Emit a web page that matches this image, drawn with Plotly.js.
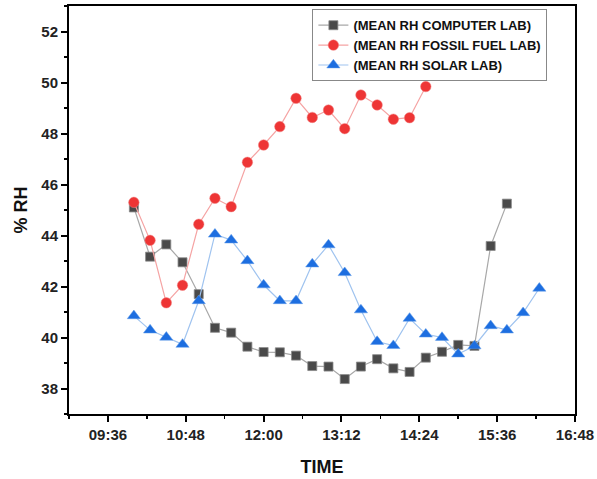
<!DOCTYPE html>
<html>
<head>
<meta charset="utf-8">
<script src="https://cdn.plot.ly/plotly-3.0.1.min.js"></script>
<style>html,body{margin:0;padding:0;background:#fff;}#chart{width:597px;height:479px;}</style>
</head>
<body>
<div id="chart"></div>
<script>
// Times (15-minute readings)
const computerTimes = ["10:00","10:15","10:30","10:45","11:00","11:15","11:30","11:45","12:00","12:15","12:30","12:45","13:00","13:15","13:30","13:45","14:00","14:15","14:30","14:45","15:00","15:15","15:30","15:45"];
const computerRH = [45.10,43.17,43.65,42.95,41.70,40.38,40.19,39.64,39.43,39.42,39.29,38.88,38.86,38.37,38.86,39.15,38.79,38.65,39.21,39.44,39.71,39.67,43.59,45.25];

const fossilTimes = ["10:00","10:15","10:30","10:45","11:00","11:15","11:30","11:45","12:00","12:15","12:30","12:45","13:00","13:15","13:30","13:45","14:00","14:15","14:30"];
const fossilRH = [45.30,43.81,41.36,42.05,44.44,45.46,45.13,46.87,47.55,48.27,49.38,48.63,48.92,48.19,49.51,49.12,48.56,48.62,49.84];

const solarTimes = ["10:00","10:15","10:30","10:45","11:00","11:15","11:30","11:45","12:00","12:15","12:30","12:45","13:00","13:15","13:30","13:45","14:00","14:15","14:30","14:45","15:00","15:15","15:30","15:45","16:00","16:15"];
const solarRH = [40.85,40.29,40.01,39.73,41.44,44.05,43.82,43.01,42.06,41.44,41.44,42.88,43.63,42.54,41.08,39.84,39.68,40.75,40.13,40.00,39.35,39.67,40.46,40.29,40.97,41.93];

const xTickLabels = ["09:36","10:48","12:00","13:12","14:24","15:36","16:48"];
const seriesNames = ["(MEAN RH COMPUTER LAB)","(MEAN RH FOSSIL FUEL LAB)","(MEAN RH SOLAR LAB)"];

const day = "2000-01-01 ";
const toDate = arr => arr.map(t => day + t);
const FONT = "Liberation Sans, Arial, sans-serif";

const traces = [
  {x: toDate(computerTimes), y: computerRH, name: seriesNames[0], mode: "lines+markers", type: "scatter",
   line: {color: "#a8a8a8", width: 1.2},
   marker: {symbol: "square", size: 9, color: "#4a4a4a", line: {color: "#8a8a8a", width: 0.8}}},
  {x: toDate(fossilTimes), y: fossilRH, name: seriesNames[1], mode: "lines+markers", type: "scatter",
   line: {color: "#f5a3a3", width: 1.2},
   marker: {symbol: "circle", size: 10.5, color: "#ee3535", line: {color: "#f08080", width: 0.5}}},
  {x: toDate(solarTimes), y: solarRH, name: seriesNames[2], mode: "lines+markers", type: "scatter",
   line: {color: "#9fc3ef", width: 1.2},
   marker: {symbol: "triangle-up", size: 11.5, color: "#1d6ee0", line: {color: "#5f9ae8", width: 0.5}}}
];

const layout = {
  width: 597, height: 479,
  margin: {l: 69, r: 22, t: 6, b: 65},
  paper_bgcolor: "#fff", plot_bgcolor: "#fff",
  font: {family: FONT, color: "#222"},
  showlegend: true,
  legend: {x: 0.481, y: 0.992, xanchor: "left", yanchor: "top",
    bgcolor: "#fff", bordercolor: "#888", borderwidth: 1,
    font: {size: 13, color: "#111", family: FONT, weight: "bold"},
    tracegroupgap: 0, itemwidth: 30},
  xaxis: {
    type: "date",
    range: [day + "09:00", day + "16:48"],
    tickmode: "array",
    tickvals: toDate(xTickLabels),
    ticktext: xTickLabels,
    ticks: "outside", ticklen: 6, tickwidth: 2, tickcolor: "#000",
    minor: {tickmode: "linear", tick0: day + "09:00", dtick: 36*60*1000, ticks: "outside", ticklen: 3, tickwidth: 1.5, tickcolor: "#000", showgrid: false},
    showline: true, linecolor: "#000", linewidth: 2, mirror: true,
    showgrid: false, zeroline: false,
    tickfont: {size: 15, family: FONT, weight: "bold", color: "#222"},
    title: {text: "TIME", font: {size: 18, family: FONT, weight: "bold", color: "#111"}, standoff: 18}
  },
  yaxis: {
    range: [37, 53],
    tickmode: "linear", tick0: 38, dtick: 2,
    ticks: "outside", ticklen: 6, tickwidth: 2, tickcolor: "#000",
    minor: {tickmode: "linear", tick0: 37, dtick: 1, ticks: "outside", ticklen: 3, tickwidth: 1.5, tickcolor: "#000", showgrid: false},
    showline: true, linecolor: "#000", linewidth: 2, mirror: true,
    showgrid: false, zeroline: false,
    tickfont: {size: 15, family: FONT, weight: "bold", color: "#222"},
    title: {text: "% RH", font: {size: 18, family: FONT, weight: "bold", color: "#111"}, standoff: 9}
  }
};

Plotly.newPlot("chart", traces, layout, {displayModeBar: false, staticPlot: true});
</script>
</body>
</html>
